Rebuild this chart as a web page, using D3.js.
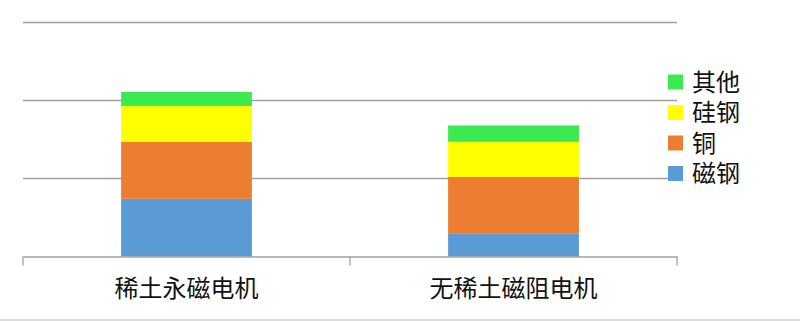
<!DOCTYPE html>
<html>
<head>
<meta charset="utf-8">
<script src="https://cdn.jsdelivr.net/npm/d3@7"></script>
<style>
  body { margin: 0; background: #fff; }
  text { font-family: "Noto Sans CJK SC", "Noto Sans", sans-serif; fill: #111; }
</style>
</head>
<body>
<svg id="chart" width="800" height="321"></svg>
<script>
// categories and stacked series (units of one gridline step)
const categories = ['稀土永磁电机', '无稀土磁阻电机']
const seriesNames = ['磁钢', '铜', '硅钢', '其他']
const magnetSteel = [0.74, 0.29]
const copper = [0.73, 0.73]
const siliconSteel = [0.46, 0.45]
const others = [0.18, 0.21]
const yTicks = [0, 1, 2, 3]
const colors = ['#5b9bd5', '#ed7d31', '#ffff00', '#3aea50']

const svg = d3.select('#chart')
const plotLeft = 23, plotRight = 677, plotTop = 22.5, plotBottom = 256.5

const x = d3.scaleBand().domain(categories).range([plotLeft, plotRight]).padding(0)
const y = d3.scaleLinear().domain([0, 3]).range([plotBottom, plotTop])

// table for stack
let rows = categories.map(function (c, i) {
    return { cat: c, '磁钢': magnetSteel[i], '铜': copper[i], '硅钢': siliconSteel[i], '其他': others[i] }
})
let stacked = d3.stack().keys(seriesNames)(rows)

// gridlines
svg.append('g')
    .selectAll('line')
    .data(yTicks.slice(1))
    .join('line')
    .attr('x1', plotLeft).attr('x2', plotRight)
    .attr('y1', d => y(d)).attr('y2', d => y(d))
    .style('stroke', '#a0a0a0')
    .attr('stroke-width', 1.3)

// bars
const barW = x.bandwidth() * 0.4
svg.append('g')
    .selectAll('g')
    .data(stacked)
    .join('g')
    .attr('fill', (d, i) => colors[i])
    .selectAll('rect')
    .data(d => d)
    .join('rect')
    .attr('x', d => x(d.data.cat) + (x.bandwidth() - barW) / 2)
    .attr('width', barW)
    .attr('y', d => y(d[1]))
    .attr('height', d => y(d[0]) - y(d[1]))

// x axis
const xAxis = svg.append('g')
    .attr('transform', 'translate(0,' + plotBottom + ')')
    .call(d3.axisBottom(x).tickSize(0).tickPadding(30).tickSizeOuter(0))
xAxis.select('.domain').attr('stroke', '#a0a0a0').attr('stroke-width', 1.3)
xAxis.selectAll('text')
    .style('font-size', '24px')
    .attr('dy', '0')
    .attr('y', 40)

// tick marks at band edges
let edges = categories.map(c => x(c)).concat([plotRight])
xAxis.selectAll('.edge')
    .data(edges)
    .join('line')
    .attr('class', 'edge')
    .attr('x1', d => d).attr('x2', d => d)
    .attr('y1', 0).attr('y2', 9)
    .style('stroke', '#a0a0a0')
    .attr('stroke-width', 1.3)

// legend (reversed order, top = 其他)
const legendNames = seriesNames.slice().reverse()
const legend = svg.append('g')
    .selectAll('g')
    .data(legendNames)
    .join('g')
    .attr('transform', (d, i) => 'translate(668,' + (82 + i * 30.5) + ')')

legend.append('rect')
    .attr('x', 0).attr('y', -7.5)
    .attr('width', 15).attr('height', 15)
    .attr('fill', d => colors[seriesNames.indexOf(d)])

legend.append('text')
    .attr('x', 24)
    .attr('y', 0)
    .attr('dy', '0.36em')
    .style('font-size', '24px')
    .text(d => d)

// bottom border line
svg.append('line')
    .attr('x1', 0).attr('x2', 800)
    .attr('y1', 320).attr('y2', 320)
    .style('stroke', '#d0d0d0')
    .attr('stroke-width', 1.5)
</script>
</body>
</html>
